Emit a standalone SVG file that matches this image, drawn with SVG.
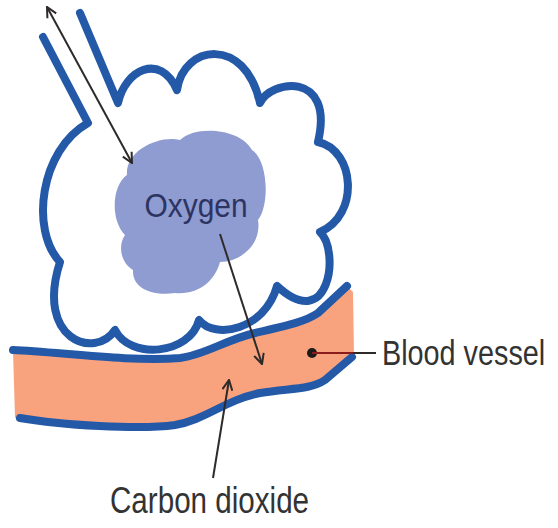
<svg xmlns="http://www.w3.org/2000/svg" width="558" height="528" viewBox="0 0 558 528">
  <style>
    .wall { fill: none; stroke: #2459a8; stroke-width: 8; stroke-linecap: round; stroke-linejoin: round; }
    .vessel-wall { fill: none; stroke: #2459a8; stroke-width: 8; stroke-linecap: round; stroke-linejoin: round; }
    .arrow { fill: none; stroke: #2e2a2a; stroke-width: 2; }
    .label { font-family: "Liberation Sans", Arial, sans-serif; fill: #333333; }
  </style>
  <defs>
    <marker id="head" viewBox="0 0 12 12" refX="11" refY="6" markerWidth="12" markerHeight="12" markerUnits="userSpaceOnUse" orient="auto-start-reverse">
      <path d="M1,1 L11,6 L1,11" fill="none" stroke="#2e2a2a" stroke-width="2" stroke-linejoin="miter"/>
    </marker>
  </defs>

  <rect width="558" height="528" fill="#ffffff"/>

  <!-- alveolus with its airway -->
  <g id="alveolus">
    <path class="wall" fill="#ffffff" d="M80,13 L118,103
      C125,70 160,52 177,90
      C183,45 245,35 260,103
      C270,80 335,70 318,142
      C355,150 360,215 320,232
      C340,250 330,335 277,286
      C265,330 215,340 199,320
      C190,355 130,360 115,330
      C95,360 35,340 60,262
      C30,230 40,150 88,123
      L43,37"/>
  </g>

  <!-- oxygen inside the alveolus -->
  <g id="oxygen">
    <path fill="#8f9cd2" d="M127,175
      C125,150 160,135 180,140
      C195,125 240,128 252,150
      C268,160 270,205 258,220
      C262,245 240,262 220,262
      C215,280 200,295 175,293
      C155,296 132,290 133,270
      C120,262 118,245 125,235
      C110,220 112,185 127,175 Z"/>
    <text transform="translate(196,217) scale(0.88,1)" text-anchor="middle" font-family="'Liberation Sans', Arial, sans-serif" font-size="34" fill="#2d3461">Oxygen</text>
  </g>

  <!-- blood vessel -->
  <g id="blood-vessel">
    <path fill="#f9a27e" d="M13,350 C60,352 130,362 180,358 C205,355 225,340 255,333 C285,326 305,322 318,313 L347,286 L353,292 L354,355 L352,357 L325,380 C310,390 290,388 260,393 C225,400 205,420 175,425 C140,430 60,425 20,418 L15,418 Z"/>
    <path class="vessel-wall" d="M13,350 C60,352 130,362 180,358 C205,355 225,340 255,333 C285,326 305,322 318,313 L347,286"/>
    <path class="vessel-wall" d="M20,418 C60,425 140,430 175,425 C205,420 225,400 260,393 C290,388 310,390 325,380 L352,357"/>
  </g>

  <!-- gas exchange arrows and leader -->
  <g id="connectors">
    <path class="arrow" d="M47,7 L132,163" marker-start="url(#head)" marker-end="url(#head)"/>
    <path class="arrow" d="M220,234 L262,364" marker-end="url(#head)"/>
    <path class="arrow" d="M213,478 L229,380" marker-end="url(#head)"/>
    <circle cx="312" cy="353" r="5" fill="#1e1a1a"/>
    <path d="M312,353 L353,353" stroke="#8a1c1c" stroke-width="2"/>
    <path d="M353,353 L376,353" stroke="#2e2a2a" stroke-width="2"/>
  </g>

  <!-- condensed labels -->
  <g id="labels">
    <text class="label" transform="translate(382,365) scale(0.8,1)" font-size="36">Blood vessel</text>
    <text class="label" transform="translate(110,513) scale(0.8,1)" font-size="37">Carbon dioxide</text>
  </g>
</svg>
